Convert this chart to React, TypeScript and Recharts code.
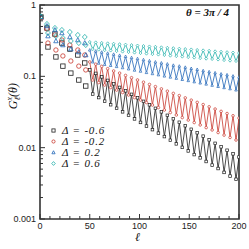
import React from 'react';
import { ComposedChart, Line, Scatter, XAxis, YAxis, ReferenceArea } from 'recharts';

// ---- data ----
const SERIES_NAMES = ['Δ = -0.6', 'Δ = -0.2', 'Δ = 0.2', 'Δ = 0.6'];

// short-ℓ points (symbols only)
const EARLY_L = [1, 7, 8, 15, 16, 22, 23, 30, 31, 38, 39, 45, 46];
const BLACK_EARLY = [0.679, 0.476, 0.258, 0.392, 0.187, 0.293, 0.139, 0.241, 0.111, 0.199, 0.0887, 0.154, 0.0731];
const RED_EARLY = [0.67, 0.461, 0.293, 0.38, 0.234, 0.323, 0.193, 0.275, 0.164, 0.234, 0.139, 0.199, 0.123];
const BLUE_EARLY = [0.68, 0.508, 0.367, 0.446, 0.313, 0.405, 0.275, 0.356, 0.241, 0.323, 0.219, 0.293, 0.199];
const CYAN_EARLY = [0.69, 0.541, 0.405, 0.476, 0.367, 0.446, 0.344, 0.418, 0.313, 0.38, 0.293, 0.356, 0.275];

// long-ℓ points (line + small symbols)
const LINE_L = [50, 53, 56, 59, 62, 65, 68, 71, 74, 77, 80, 83, 86, 89, 92, 95, 98, 101, 104, 107, 110, 113, 116, 119, 122, 125, 128, 131, 134, 137, 140, 143, 146, 149, 152, 155, 158, 161, 164, 167, 170, 173, 176, 179, 182, 185, 188, 191, 194, 197, 200];
const BLACK_LINE = [0.123, 0.0565, 0.110, 0.0504, 0.0982, 0.0449, 0.0877, 0.0400, 0.0784, 0.0357, 0.0700, 0.0318, 0.0626, 0.0284, 0.0559, 0.0253, 0.0500, 0.0226, 0.0446, 0.0201, 0.0399, 0.0179, 0.0356, 0.0160, 0.0318, 0.0143, 0.0284, 0.0127, 0.0254, 0.0113, 0.0227, 0.0101, 0.0203, 0.0090, 0.0181, 0.0080, 0.0162, 0.0072, 0.0145, 0.0064, 0.0129, 0.0057, 0.0115, 0.0051, 0.0103, 0.0045, 0.0092, 0.0040, 0.0082, 0.0036, 0.0074];
const RED_LINE = [0.159, 0.0887, 0.148, 0.0818, 0.138, 0.0755, 0.128, 0.0696, 0.119, 0.0642, 0.111, 0.0593, 0.103, 0.0547, 0.0957, 0.0504, 0.0890, 0.0465, 0.0828, 0.0429, 0.0770, 0.0396, 0.0717, 0.0365, 0.0667, 0.0337, 0.0620, 0.0311, 0.0577, 0.0287, 0.0537, 0.0264, 0.0499, 0.0244, 0.0464, 0.0225, 0.0432, 0.0208, 0.0402, 0.0191, 0.0374, 0.0177, 0.0348, 0.0163, 0.0323, 0.0150, 0.0301, 0.0139, 0.0280, 0.0128, 0.0260];
const BLUE_LINE = [0.234, 0.159, 0.226, 0.153, 0.218, 0.147, 0.211, 0.142, 0.204, 0.137, 0.197, 0.132, 0.190, 0.127, 0.183, 0.122, 0.177, 0.118, 0.171, 0.113, 0.165, 0.109, 0.159, 0.105, 0.154, 0.101, 0.149, 0.0975, 0.143, 0.0939, 0.139, 0.0904, 0.134, 0.0871, 0.129, 0.0838, 0.125, 0.0807, 0.120, 0.0778, 0.116, 0.0749, 0.112, 0.0721, 0.108, 0.0694, 0.105, 0.0669, 0.101, 0.0644, 0.0977];
const CYAN_LINE = [0.303, 0.241, 0.299, 0.237, 0.294, 0.233, 0.290, 0.230, 0.286, 0.226, 0.282, 0.222, 0.278, 0.219, 0.274, 0.215, 0.270, 0.212, 0.266, 0.208, 0.262, 0.205, 0.259, 0.202, 0.255, 0.199, 0.251, 0.195, 0.248, 0.192, 0.244, 0.189, 0.241, 0.186, 0.238, 0.183, 0.234, 0.180, 0.231, 0.177, 0.228, 0.175, 0.224, 0.172, 0.221, 0.169, 0.218, 0.166, 0.215, 0.164, 0.212];

const Y_MAJOR = [0.001, 0.01, 0.1, 1];
const Y_LABELS = ['0.001', '0.01', '0.1', '1'];
const X_MAJOR = [0, 50, 100, 150, 200];
const X_LABELS = ['0', '50', '100', '150', '200'];
const X_MINOR = [10, 20, 30, 40, 60, 70, 80, 90, 110, 120, 130, 140, 160, 170, 180, 190];
const Y_MINOR_MULT = [2, 3, 4, 5, 6, 7, 8, 9];

// ---- styles ----
const W = 249;
const H = 249;
const MARGIN = { top: 5, right: 10, bottom: 0, left: 0 };
const AXIS = '#333';
const COLORS = ['#1e1e1e', '#c8372d', '#2166b8', '#22b0aa'];
const SHAPES = ['square', 'circle', 'triangle', 'diamond'];

const toPts = (ls: number[], vs: number[]) => ls.map((l, i) => ({ l, v: vs[i] }));
const EARLY = [BLACK_EARLY, RED_EARLY, BLUE_EARLY, CYAN_EARLY].map((vs) => toPts(EARLY_L, vs));
const LINES = [BLACK_LINE, RED_LINE, BLUE_LINE, CYAN_LINE].map((vs) => toPts(LINE_L, vs));

const Y_TICKS = [
  ...Y_MAJOR,
  ...Y_MAJOR.slice(0, 3).flatMap((d) => Y_MINOR_MULT.map((k) => +(d * k).toPrecision(3))),
].sort((a, b) => a - b);
const X_TICKS = [...X_MAJOR, ...X_MINOR].sort((a, b) => a - b);

function Marker({ shape, cx, cy, r, color, fill = 'none', sw = 0.8 }: any) {
  if (cx == null || cy == null) return null;
  switch (shape) {
    case 'square':
      return <rect x={cx - r} y={cy - r} width={2 * r} height={2 * r} fill={fill} stroke={color} strokeWidth={sw} />;
    case 'circle':
      return <circle cx={cx} cy={cy} r={r} fill={fill} stroke={color} strokeWidth={sw} />;
    case 'triangle':
      return (
        <polygon
          points={`${cx},${cy - r * 1.1} ${cx + r},${cy + r * 0.8} ${cx - r},${cy + r * 0.8}`}
          fill={fill}
          stroke={color}
          strokeWidth={sw}
        />
      );
    default:
      return (
        <polygon
          points={`${cx},${cy - r * 1.2} ${cx + r * 1.1},${cy} ${cx},${cy + r * 1.2} ${cx - r * 1.1},${cy}`}
          fill={fill}
          stroke={color}
          strokeWidth={sw}
        />
      );
  }
}

const YTick = (props: any) => {
  const { x, y, payload } = props;
  const v = payload.value;
  const idx = Y_MAJOR.findIndex((m) => Math.abs(m - v) / m < 1e-6);
  const major = idx >= 0;
  return (
    <g>
      <line x1={x} x2={x + (major ? 5 : 3)} y1={y} y2={y} stroke={AXIS} strokeWidth={1} />
      {major && (
        <text x={x - 4} y={y} dy={3} textAnchor="end" fontSize={9} fontFamily="'Liberation Sans', Arial, sans-serif" fill="#222">
          {Y_LABELS[idx]}
        </text>
      )}
    </g>
  );
};

const XTick = (props: any) => {
  const { x, y, payload } = props;
  const v = payload.value;
  const idx = X_MAJOR.indexOf(v);
  const major = idx >= 0;
  return (
    <g>
      <line x1={x} x2={x} y1={y} y2={y - (major ? 5 : 3)} stroke={AXIS} strokeWidth={1} />
      {major && (
        <text x={x} y={y + 10} textAnchor="middle" fontSize={9} fontFamily="'Liberation Sans', Arial, sans-serif" fill="#222">
          {X_LABELS[idx]}
        </text>
      )}
    </g>
  );
};

const serif = "'Liberation Serif', 'Times New Roman', serif";

export default function App() {
  return (
    <div style={{ position: 'absolute', left: 0, top: 0, width: W, height: H, background: '#fff' }}>
      <ComposedChart width={W} height={H} margin={MARGIN}>
        <XAxis
          dataKey="l"
          type="number"
          domain={[0, 200]}
          ticks={X_TICKS}
          interval={0}
          height={30}
          tickSize={0}
          tickMargin={0}
          axisLine={false}
          tick={(p: any) => <XTick {...p} />}
          allowDataOverflow
        />
        <YAxis
          dataKey="v"
          type="number"
          scale="log"
          domain={[0.001, 1]}
          ticks={Y_TICKS}
          interval={0}
          width={40}
          tickSize={0}
          tickMargin={0}
          axisLine={false}
          tick={(p: any) => <YTick {...p} />}
          allowDataOverflow
        />
        <ReferenceArea x1={0} x2={200} y1={0.001} y2={1} fill="none" stroke={AXIS} strokeWidth={1.6} ifOverflow="visible" />
        {LINES.map((d, si) => (
          <Line
            key={'line' + si}
            data={d}
            dataKey="v"
            type="linear"
            stroke={COLORS[si]}
            strokeWidth={0.8}
            isAnimationActive={false}
            dot={(p: any) => (
              <Marker key={'d' + si + '-' + p.index} shape={SHAPES[si]} cx={p.cx} cy={p.cy} r={1.3} color={COLORS[si]} fill="#fff" sw={0.7} />
            )}
            activeDot={false}
          />
        ))}
        {EARLY.map((d, si) => (
          <Scatter
            key={'sc' + si}
            data={d}
            dataKey="v"
            isAnimationActive={false}
            shape={(p: any) => <Marker shape={SHAPES[si]} cx={p.cx} cy={p.cy} r={2.2} color={COLORS[si]} />}
          />
        ))}
      </ComposedChart>

      {/* title */}
      <div
        style={{
          position: 'absolute',
          left: 186,
          top: 6,
          fontFamily: serif,
          fontStyle: 'italic',
          fontWeight: 'bold',
          fontSize: 11,
          lineHeight: '12px',
          color: '#111',
          whiteSpace: 'nowrap',
        }}
      >
        θ = 3π / 4
      </div>

      {/* legend */}
      {SERIES_NAMES.map((name, i) => (
        <div key={name} style={{ position: 'absolute', left: 49, top: 125 + i * 11, height: 11, display: 'flex', alignItems: 'center' }}>
          <svg width={9} height={9} style={{ display: 'block' }}>
            <Marker shape={SHAPES[i]} cx={4.5} cy={4.5} r={1.6} color={COLORS[i]} />
          </svg>
          <span
            style={{
              marginLeft: 4,
              fontFamily: serif,
              fontStyle: 'italic',
              fontSize: 11,
              lineHeight: '11px',
              letterSpacing: '0.8px',
              color: '#111',
              whiteSpace: 'pre',
            }}
          >
            {name}
          </span>
        </div>
      ))}

      {/* y label */}
      <div
        style={{
          position: 'absolute',
          left: -16,
          top: 88,
          width: 60,
          textAlign: 'center',
          transform: 'rotate(-90deg)',
          fontFamily: serif,
          fontStyle: 'italic',
          fontSize: 12,
          lineHeight: '14px',
          color: '#111',
          whiteSpace: 'nowrap',
        }}
      >
        G
        <span style={{ display: 'inline-flex', flexDirection: 'column', verticalAlign: 'middle', fontSize: 8, lineHeight: '8px' }}>
          <span>x</span>
          <span>ℓ</span>
        </span>
        (θ)
      </div>

      {/* x label */}
      <div style={{ position: 'absolute', left: 135, top: 231, fontFamily: serif, fontStyle: 'italic', fontSize: 12, lineHeight: '12px', color: '#111' }}>ℓ</div>
    </div>
  );
}
